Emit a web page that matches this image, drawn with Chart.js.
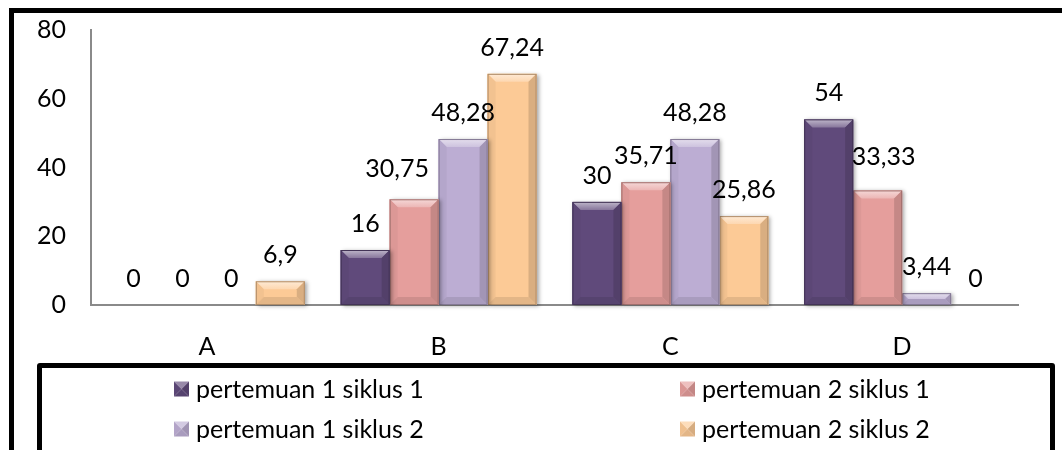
<!DOCTYPE html>
<html>
<head>
<meta charset="utf-8">
<script src="https://cdn.jsdelivr.net/npm/chart.js@4/dist/chart.umd.min.js"></script>
<style>
  html, body { margin: 0; padding: 0; background: #fff; overflow: hidden; }
  #wrap { position: relative; width: 1062px; height: 450px; }
  #wrap canvas { position: absolute; left: 0; top: 0; }
  .frame { position: absolute; left: 9px; top: 8px; width: 1100px; height: 500px;
           border: 5px solid #000; box-sizing: border-box; }
  .legend-frame { position: absolute; left: 37px; top: 363px; width: 1018px; height: 200px;
                  border: 5px solid #000; border-radius: 3px; box-sizing: border-box; }
</style>
</head>
<body>
<div id="wrap">
  <div class="frame"></div>
  <div class="legend-frame"></div>
  <canvas id="chart" width="1062" height="450"></canvas>
</div>
<script>
// Categories and series
const categories = ['A', 'B', 'C', 'D'];
const p1s1 = [0, 16, 30, 54];
const p2s1 = [0, 30.75, 35.71, 33.33];
const p1s2 = [0, 48.28, 48.28, 3.44];
const p2s2 = [6.9, 67.24, 25.86, 0];
const seriesNames = ['pertemuan 1 siklus 1', 'pertemuan 2 siklus 1', 'pertemuan 1 siklus 2', 'pertemuan 2 siklus 2'];
const yTicks = [0, 20, 40, 60, 80];

const FONT = "Lato, 'Open Sans', sans-serif";
const FONT_SIZE = 25;

function mix(hex, target, amt) {
  const n = parseInt(hex.slice(1), 16);
  const r = (n >> 16) & 255, g = (n >> 8) & 255, b = n & 255;
  const t = target === 'w' ? 255 : 0;
  const f = c => Math.round(c + (t - c) * amt);
  return `rgb(${f(r)},${f(g)},${f(b)})`;
}

function poly(ctx, pts, fill) {
  ctx.beginPath();
  ctx.moveTo(pts[0][0], pts[0][1]);
  for (let i = 1; i < pts.length; i++) ctx.lineTo(pts[i][0], pts[i][1]);
  ctx.closePath();
  ctx.fillStyle = fill;
  ctx.fill();
}

function barRect(bar) {
  const p = bar.getProps(['x', 'y', 'base', 'width'], true);
  return { x0: p.x - p.width / 2, x1: p.x + p.width / 2,
           y0: Math.min(p.y, p.base), y1: Math.max(p.y, p.base) };
}

// Soft drop shadow under each bar, then bevelled facets over it
const bevelPlugin = {
  id: 'bevel',
  beforeDatasetDraw(chart, args) {
    const ctx = chart.ctx;
    const color = chart.data.datasets[args.index].backgroundColor;
    ctx.save();
    ctx.shadowColor = 'rgba(0,0,0,0.35)';
    ctx.shadowBlur = 4;
    ctx.shadowOffsetX = 2;
    ctx.shadowOffsetY = 1;
    args.meta.data.forEach(bar => {
      const r = barRect(bar);
      if (r.y1 - r.y0 < 0.5) return;
      ctx.fillStyle = color;
      ctx.fillRect(r.x0, r.y0, r.x1 - r.x0, r.y1 - r.y0);
    });
    ctx.restore();
  },
  afterDatasetDraw(chart, args) {
    const ctx = chart.ctx;
    const color = chart.data.datasets[args.index].backgroundColor;
    ctx.save();
    args.meta.data.forEach(bar => {
      const { x0, x1, y0, y1 } = barRect(bar);
      const h = y1 - y0, w = x1 - x0;
      if (h < 0.5) return;
      const s = Math.min(8, h / 2, w / 2);
      const g = ctx.createLinearGradient(0, y0, 0, y0 + s);
      g.addColorStop(0, mix(color, 'w', 0.6));
      g.addColorStop(1, mix(color, 'w', 0.25));
      poly(ctx, [[x0, y0], [x1, y0], [x1 - s, y0 + s], [x0 + s, y0 + s]], g);
      poly(ctx, [[x0, y0], [x0 + s, y0 + s], [x0 + s, y1 - s], [x0, y1]], mix(color, 'b', 0.04));
      poly(ctx, [[x1, y0], [x1 - s, y0 + s], [x1 - s, y1 - s], [x1, y1]], mix(color, 'b', 0.14));
      poly(ctx, [[x0, y1], [x0 + s, y1 - s], [x1 - s, y1 - s], [x1, y1]], mix(color, 'b', 0.1));
      ctx.strokeStyle = mix(color, 'b', 0.3);
      ctx.lineWidth = 1;
      ctx.strokeRect(x0 + 0.5, y0 + 0.5, w - 1, h - 1);
    });
    ctx.restore();
  }
};

// Value labels above each bar, decimal comma; a few are nudged to clear neighbours
const valueLabelPlugin = {
  id: 'valueLabels',
  afterDatasetsDraw(chart, args, opts) {
    const ctx = chart.ctx;
    ctx.save();
    ctx.font = `${FONT_SIZE}px ${FONT}`;
    ctx.fillStyle = '#000';
    ctx.textAlign = 'center';
    ctx.textBaseline = 'middle';
    chart.data.datasets.forEach((ds, di) => {
      chart.getDatasetMeta(di).data.forEach((bar, i) => {
        const p = bar.getProps(['x', 'y'], true);
        const [dx, dy] = (opts.nudge && opts.nudge[di + ':' + i]) || [0, 0];
        const txt = String(ds.data[i]).replace('.', ',');
        ctx.fillText(txt, p.x + dx, p.y - opts.offset + dy);
      });
    });
    ctx.restore();
  }
};

// Two-column legend inside the framed box
const boxLegendPlugin = {
  id: 'boxLegend',
  afterDraw(chart, args, opts) {
    const ctx = chart.ctx;
    ctx.save();
    ctx.font = `${FONT_SIZE}px ${FONT}`;
    ctx.textBaseline = 'middle';
    ctx.textAlign = 'left';
    chart.data.datasets.forEach((ds, i) => {
      const col = i % 2, row = Math.floor(i / 2);
      const x = opts.columns[col], y = opts.rows[row];
      const m = opts.marker, c = ds.backgroundColor;
      const x0 = x, y0 = y - m / 2, x1 = x + m, y1 = y + m / 2, cx = x + m / 2, cy = y;
      poly(ctx, [[x0, y0], [x1, y0], [cx, cy]], mix(c, 'w', 0.35));
      poly(ctx, [[x0, y0], [cx, cy], [x0, y1]], mix(c, 'b', 0.05));
      poly(ctx, [[x1, y0], [cx, cy], [x1, y1]], mix(c, 'b', 0.15));
      poly(ctx, [[x0, y1], [cx, cy], [x1, y1]], mix(c, 'b', 0.1));
      ctx.fillStyle = '#000';
      ctx.fillText(ds.label, x + m + opts.gap, y + 1);
    });
    ctx.restore();
  }
};

const colors = ['#604A7B', '#E59E9C', '#BCADD3', '#FCCA96'];
const seriesData = [p1s1, p2s1, p1s2, p2s2];

new Chart(document.getElementById('chart'), {
  type: 'bar',
  data: {
    labels: categories,
    datasets: seriesData.map((d, i) => ({
      label: seriesNames[i],
      data: d,
      backgroundColor: colors[i],
      borderWidth: 0,
      categoryPercentage: 0.845,
      barPercentage: 1.0
    }))
  },
  options: {
    responsive: false,
    animation: false,
    devicePixelRatio: 1,
    layout: { padding: { top: 30, right: 44, bottom: 0, left: 0 } },
    plugins: {
      legend: { display: false },
      tooltip: { enabled: false },
      valueLabels: { offset: 26, nudge: { '1:1': [-17, -4], '1:3': [6, -7] } },
      boxLegend: { columns: [174, 680], rows: [389, 429], marker: 15, gap: 7 }
    },
    scales: {
      x: {
        grid: { display: false, drawTicks: false },
        border: { display: true, color: '#8a8a8a', width: 2 },
        ticks: { color: '#000', font: { family: FONT, size: FONT_SIZE }, padding: 27 },
        afterFit(scale) { scale.height = 145; }
      },
      y: {
        min: 0, max: 80,
        afterBuildTicks(scale) { scale.ticks = yTicks.map(v => ({ value: v })); },
        grid: { display: false, drawTicks: false },
        border: { display: true, color: '#8a8a8a', width: 2 },
        ticks: { color: '#000', font: { family: FONT, size: FONT_SIZE }, padding: 25 },
        afterFit(scale) {
          scale.width = 91;
          scale.paddingTop = 0;
          scale.paddingBottom = 0;
        }
      }
    }
  },
  plugins: [bevelPlugin, valueLabelPlugin, boxLegendPlugin]
});
</script>
</body>
</html>
